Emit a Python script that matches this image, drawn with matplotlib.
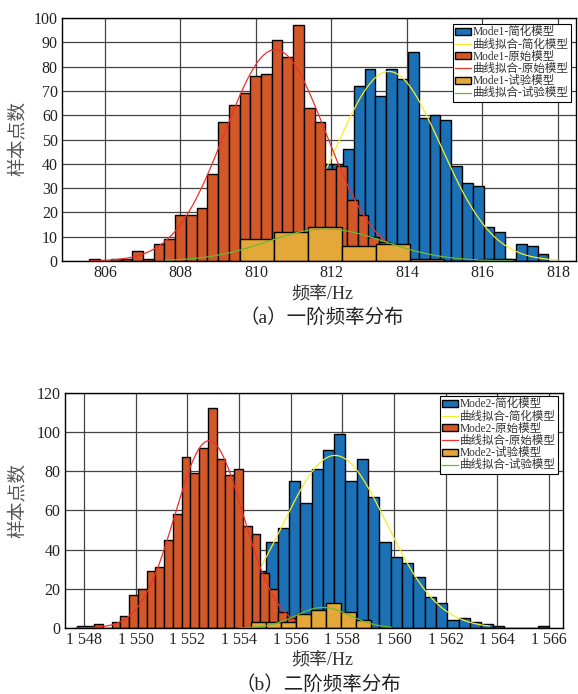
import numpy as np
import matplotlib
matplotlib.use("Agg")
import matplotlib.pyplot as plt
from matplotlib.patches import Patch
from matplotlib.lines import Line2D

plt.rcParams['font.family'] = ['Liberation Serif', 'Noto Sans CJK SC']

# ---------------- data: (a) first-order frequency (Mode1) ----------------
m1_simpl_start = 811.735
m1_simpl_width = 0.2864
m1_simpl_counts = [40, 40, 46, 72, 79, 68, 79, 75, 86, 59, 60, 58, 39, 32, 31,
                   14, 12, 1, 7, 6, 3]

m1_orig_start = 805.584
m1_orig_width = 0.2843
m1_orig_counts = [1, 0, 1, 1, 4, 1, 7, 9, 19, 19, 22, 36, 57, 64, 69, 76, 77,
                  91, 84, 97, 63, 57, 38, 39, 25, 19, 10, 8, 1]

m1_test_start = 809.58
m1_test_width = 0.90
m1_test_counts = [9, 12, 14, 6, 7, 1, 0, 1]

# fitted normal curves: (mean, std, peak height, x-from, x-to)
m1_fit_simpl = (813.52, 1.38, 78.0, 811.70, 818.00)
m1_fit_orig = (810.51, 1.34, 87.0, 805.60, 813.80)
m1_fit_test = (811.85, 1.55, 13.2, 807.60, 816.80)

m1_xticks = [806, 808, 810, 812, 814, 816, 818]
m1_xticklabels = ['806', '808', '810', '812', '814', '816', '818']
m1_yticks = [0, 10, 20, 30, 40, 50, 60, 70, 80, 90, 100]
m1_labels = ['Mode1-简化模型', '曲线拟合-简化模型', 'Mode1-原始模型',
             '曲线拟合-原始模型', 'Mode1-试验模型', '曲线拟合-试验模型']

# ---------------- data: (b) second-order frequency (Mode2) ----------------
m2_simpl_start = 1554.617
m2_simpl_width = 0.4384
m2_simpl_counts = [29, 44, 51, 75, 64, 81, 91, 99, 75, 86, 67, 44, 36, 33, 26,
                   16, 13, 4, 5, 3, 2, 1, 0, 0, 0, 1]

m2_orig_start = 1547.705
m2_orig_width = 0.339
m2_orig_counts = [1, 1, 2, 0, 3, 6, 17, 20, 29, 31, 45, 58, 87, 79, 92, 112,
                  86, 78, 81, 52, 48, 28, 20, 8, 5]

m2_test_start = 1554.475
m2_test_width = 0.58
m2_test_counts = [3, 3, 3, 7, 9, 13, 8, 4]

m2_fit_simpl = (1557.72, 2.00, 88.0, 1554.62, 1563.70)
m2_fit_orig = (1552.84, 1.32, 95.5, 1547.70, 1556.30)
m2_fit_test = (1557.25, 1.05, 10.5, 1554.00, 1559.90)

m2_xticks = [1548, 1550, 1552, 1554, 1556, 1558, 1560, 1562, 1564, 1566]
m2_xticklabels = ['1 548', '1 550', '1 552', '1 554', '1 556', '1 558',
                  '1 560', '1 562', '1 564', '1 566']
m2_yticks = [0, 20, 40, 60, 80, 100, 120]
m2_labels = ['Mode2-简化模型', '曲线拟合-简化模型', 'Mode2-原始模型',
             '曲线拟合-原始模型', 'Mode2-试验模型', '曲线拟合-试验模型']

xlabel_text = '频率/Hz'
ylabel_text = '样本点数'
caption_a = '（a）一阶频率分布'
caption_b = '（b）二阶频率分布'

# ---------------- styles ----------------
C_BLUE = '#1c71b6'
C_RED = '#d2582a'
C_ORANGE = '#e4a83a'
L_YELLOW = '#f2ee2a'
L_RED = '#f0302a'
L_GREEN = '#6cb832'
GRID_C = '#444444'

W, H = 578, 694
fig = plt.figure(figsize=(W / 100, H / 100), dpi=100)


def px_axes(l, t, r, b):
    return fig.add_axes([l / W, 1 - b / H, (r - l) / W, (b - t) / H])


def hist(ax, start, width, counts, color, z):
    edges = start + width * np.arange(len(counts))
    ax.bar(edges, counts, width=width, align='edge', color=color,
           edgecolor='black', linewidth=1.0, zorder=z)


def fit(ax, params, color, z):
    mu, sd, peak, x0, x1 = params
    x = np.linspace(x0, x1, 300)
    ax.plot(x, peak * np.exp(-0.5 * ((x - mu) / sd) ** 2), color=color,
            linewidth=0.9, zorder=z)


def panel(ax, d, xlim, ylim, xticks, xticklabels, yticks, labels, leg_anchor):
    hist(ax, d[0], d[1], d[2], C_BLUE, 2)
    fit(ax, d[3], L_YELLOW, 3)
    hist(ax, d[4], d[5], d[6], C_RED, 4)
    fit(ax, d[7], L_RED, 5)
    hist(ax, d[8], d[9], d[10], C_ORANGE, 6)
    fit(ax, d[11], L_GREEN, 7)
    ax.set_xlim(*xlim)
    ax.set_ylim(*ylim)
    ax.set_xticks(xticks)
    ax.set_xticklabels(xticklabels)
    ax.set_yticks(yticks)
    ax.set_axisbelow(True)
    ax.grid(True, color=GRID_C, linewidth=0.9)
    ax.tick_params(axis='both', length=0, labelsize=11.5, colors='#222222',
                   pad=3)
    for s in ax.spines.values():
        s.set_color('black')
        s.set_linewidth(1.0)
        s.set_zorder(10)
    handles = [Patch(facecolor=C_BLUE, edgecolor='black', linewidth=1.0),
               Line2D([], [], color=L_YELLOW, linewidth=0.9),
               Patch(facecolor=C_RED, edgecolor='black', linewidth=1.0),
               Line2D([], [], color=L_RED, linewidth=0.9),
               Patch(facecolor=C_ORANGE, edgecolor='black', linewidth=1.0),
               Line2D([], [], color=L_GREEN, linewidth=0.9)]
    leg = ax.legend(handles, labels, loc='upper right',
                    bbox_to_anchor=leg_anchor, borderaxespad=0,
                    fontsize=8.3, frameon=True, fancybox=False,
                    framealpha=1, edgecolor='black', handlelength=1.35,
                    handleheight=0.6, handletextpad=0.2, labelspacing=0.02,
                    borderpad=0.2)
    leg.get_frame().set_linewidth(0.8)
    leg.set_zorder(20)
    for t in leg.get_texts():
        t.set_color('#333333')


# ---- panel (a) ----
ax1 = px_axes(62, 18, 576, 261)
panel(ax1,
      [m1_simpl_start, m1_simpl_width, m1_simpl_counts, m1_fit_simpl,
       m1_orig_start, m1_orig_width, m1_orig_counts, m1_fit_orig,
       m1_test_start, m1_test_width, m1_test_counts, m1_fit_test],
      (804.86, 818.48), (0, 100), m1_xticks, m1_xticklabels, m1_yticks,
      m1_labels, (1 - 5 / 514, 1 - 6 / 243))

# ---- panel (b) ----
ax2 = px_axes(64.5, 392.7, 562.7, 628)
panel(ax2,
      [m2_simpl_start, m2_simpl_width, m2_simpl_counts, m2_fit_simpl,
       m2_orig_start, m2_orig_width, m2_orig_counts, m2_fit_orig,
       m2_test_start, m2_test_width, m2_test_counts, m2_fit_test],
      (1547.24, 1566.54), (0, 120), m2_xticks, m2_xticklabels, m2_yticks,
      m2_labels, (1 - 4.7 / 498, 1 - 3.3 / 235))

# ---- labels & captions ----
def ftext(x, y, s, **kw):
    fig.text(x / W, 1 - y / H, s, ha='center', va='center', **kw)

ftext(18, 138, ylabel_text, rotation=90, fontsize=13.5, color='#555555')
ftext(18, 500, ylabel_text, rotation=90, fontsize=13.5, color='#555555')
ftext(322, 295, xlabel_text, fontsize=13, color='#333333')
ftext(322, 661, xlabel_text, fontsize=13, color='#333333')
ftext(322, 317, caption_a, fontsize=14, color='#222222')
ftext(318, 684, caption_b, fontsize=14, color='#222222')

fig.savefig('out.png', dpi=100)
